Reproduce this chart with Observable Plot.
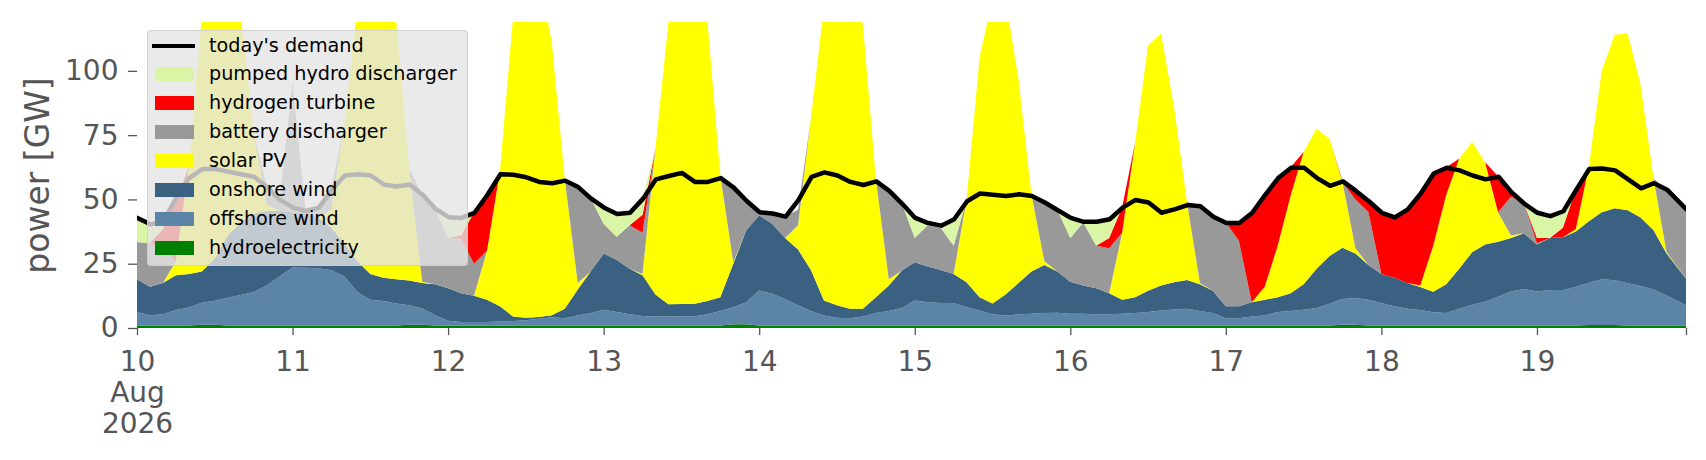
<!DOCTYPE html>
<html>
<head>
<meta charset="utf-8">
<script src="https://cdn.jsdelivr.net/npm/d3@7"></script>
<script src="https://cdn.jsdelivr.net/npm/@observablehq/plot@0.6"></script>
<style>
  html, body { margin: 0; padding: 0; background: #ffffff; }
  #wrap { position: relative; width: 1706px; height: 460px; font-family: "DejaVu Sans", sans-serif; }
  #legend { position: absolute; left: 147px; top: 30px; width: 321px; height: 236px;
    background: rgba(229,229,229,0.8); border: 1px solid rgba(204,204,204,0.8); border-radius: 4px; box-sizing: border-box; }
  .lg-row { position: absolute; left: 0; height: 0; }
  .lg-patch { position: absolute; left: 7px; width: 38.5px; height: 14px; top: -7px; }
  .lg-line { position: absolute; left: 4px; width: 43px; height: 4px; top: -2px; background: #000; }
  .lg-text { position: absolute; left: 61px; top: 0; transform: translateY(-52%); font-size: 19.2px; line-height: 1; color: #000; white-space: nowrap; }
</style>
</head>
<body>
<div id="wrap"></div>
<script>
// time axis: hours after 10 Aug 2026 00:00
const hours = [
  0,2,4,6,8,10,12,14,16,18,20,22,
  24,26,28,30,32,34,36,38,40,42,44,46,
  48,50,52,54,56,58,60,62,64,66,68,70,
  72,74,76,78,80,82,84,86,88,90,92,94,
  96,98,100,102,104,106,108,110,112,114,116,118,
  120,122,124,126,128,130,132,134,136,138,140,142,
  144,146,148,150,152,154,156,158,160,162,164,166,
  168,170,172,174,176,178,180,182,184,186,188,190,
  192,194,196,198,200,202,204,206,208,210,212,214,
  216,218,220,222,224,226,228,230,232,234,236,239
];

// series values in GW (bottom of stack first)
const hydro = [
  1,1,1,1,1,1.3,1.3,1,1,1,1,1,
  1,1,1,1,1,1,1,1,1,1.3,1.3,1,
  1,1,1,1,1,1,1,1,1,1,1,1,
  1,1,1,1,1,1,1,1,1,1,1.5,1.5,
  1,1,1,1,1,1,1,1,1,1,1,1,
  1,1,1,1,1,1,1,1,1,1,1,1,
  1,1,1,1,1,1,1,1,1,1,1,1,
  1,1,1,1,1,1,1,1,1,1.3,1.3,1,
  1,1,1,1,1,1,1,1,1,1,1,1,
  1,1,1,1,1.2,1.2,1.2,1,1,1,1,1
];
const offshore = [
  5.2,4.0,4.3,6.0,7.0,8.5,9.3,10.8,11.8,13.0,15.5,19.0,
  22.5,22.4,22.2,21.5,19.0,13.0,10.0,9.5,8.5,7.5,6.3,4.0,
  1.8,1.3,1.3,1.3,1.5,1.7,2.0,2.6,3.2,2.8,3.9,4.8,
  6.1,5.2,4.3,3.7,3.5,3.5,3.6,3.6,4.3,5.6,6.6,8.5,
  13.6,12.3,10.3,7.8,5.6,3.9,3.0,2.8,3.5,4.8,5.6,6.8,
  9.7,9.0,8.7,8.7,7.1,5.8,4.3,3.9,4.3,4.5,4.8,4.9,
  4.5,4.5,4.3,4.3,4.5,4.8,5.2,5.8,6.2,6.5,5.6,4.8,
  2.8,2.8,3.5,3.9,5.2,5.6,6.1,6.8,8.4,10.0,10.4,10.0,
  8.7,7.5,6.5,6.0,5.1,4.8,6.5,8.0,9.2,11.2,13.2,14.2,
  13.2,13.8,13.8,14.9,16.4,17.8,17.4,16.4,15.3,14.0,11.6,7.8
];
const onshore = [
  12.8,11,12.2,13.5,13,12.2,16.4,24.2,28.2,30.5,29,25.5,
  21.5,21.1,19.8,16.5,13,12,10,9,9.5,9.7,9.9,12,
  12.7,11.2,10.2,8.7,6,1.8,1,0.7,0.8,3.7,10.1,16.2,
  21.9,20.3,17.7,15.8,8.5,4.7,4.7,4.8,5.2,5.4,16.9,28,
  29.2,27.2,23.7,21.7,15.9,5.8,4.8,3.7,3,6.2,9.9,14.6,
  14.9,13.9,12.9,11.3,9.7,5.2,4.2,8.1,12.2,16.5,18.7,16.1,
  12.5,11,10.2,8.2,5.5,6.2,8.3,9.7,10.6,11.2,10.4,8.7,
  4.7,4.7,5.5,6.1,5.8,6.9,9.9,15.2,18.6,19.9,17.3,13.5,
  11.3,11,10,8.9,8,11.2,15.5,20.5,22.3,21.3,20.8,21.6,
  18.3,20.2,20.5,21.6,23.9,26,28,28.4,26.7,23,16.4,10.4
];
const solar = [
  0,0,0,5.5,42,99,113,109,81,31.5,2.5,0,
  0,0,0,7,47,99,119,118.5,100,43.5,0.5,0,
  0,0,0,19,52.5,115.5,136,133.7,106,50.5,2.5,0,
  0,0,0,0.5,57,109.8,130.7,128.6,109.5,47.3,0.6,0,
  0,0,0,9.5,59.5,114.3,131.2,127.5,110.5,46,2.5,0,
  0,0,0,0,32.2,93,118.5,115,79.5,30,1.5,0,
  0,0,0,0,26,60,95.5,98,68.2,30.3,0.5,0,
  0,0,0,5,20,38,51.4,54.5,45.6,25.5,2,0,
  0,0,0,0.6,17.9,34.7,42.8,42.8,32,11.5,1,0,
  0,0,0,1,21,55,67.4,68.7,51.5,20,0.5,0
];
const battery = [
  14.4,17,13.5,0,0,0,0,0,0,0,7,4.5,
  51,1.2,4,8,0,0,0,0,0,0,34,29.5,
  19.5,21.2,12.5,0,0,0,0,0,0,0,37.5,28.5,
  11.5,9,17,16,0,0,0,0,0,0,29.2,11.6,
  1.4,4.2,8.5,6,0,0,0,0,0,0,34.5,26.1,
  9.4,16.1,16.4,11,0,0,0,0,0,0,23,24,
  17,24.5,16.5,17.5,0,0,0,0,0,0,30,29,
  32.5,25.5,0,0,0,0,0,0,0,0,19,20.5,
  0,0,0,0,0,0,0,0,0,0,15,11.7,
  0.5,0,0,0,0,0,0,0,0,0,24.5,27.1
];
const hydrogen = [
  0,0,7.5,23,0,0,0,0,0,0,0,0,
  0,0,0,0,0,0,0,0,0,0,0,0,
  0,1.3,20,22,0,0,0,0,0,0,0,0,
  0,0,0,7,0,0,0,0,0,0,0,0,
  0,0,0,0,0,0,0,0,0,0,0,0,
  0,0,0,0,0,0,0,0,0,0,0,0,
  0,0,0,4,10,0,0,0,0,0,0,0,
  0,7,35,36,26.5,11,0,0,0,0.5,3.5,4.5,
  24,23.7,28.8,36,28.3,10.8,0,0,0,14,2,0,
  2,0,3.7,15.5,0,0,0,0,0,0,0,0
];
const pumped = [
  9.1,7.5,3,2,0,0,0,0,0,0,0,0,
  0,0,0,0,0,0,0,0,0,0,0,0,
  8.3,7,0,0,0,0,0,0,0,0,0,0,
  6.5,9,5,6.5,0,0,0,0,0,0,0,0,
  0,0,0,0,0,0,0,0,0,0,0,0,
  8,1,1,10.5,0,0,0,0,0,0,0,0,
  8,0.5,9.5,7.5,0,0,0,0,0,0,0,0,
  0,0,0,0,0,0,0,0,0,0,0,0,
  0,0,0,0,0,0,0,0,0,0,0,0,
  10,8.7,6.6,0,0,0,0,0,0,0,0,0
];
const demand = [
  43,40.5,41.5,51,58.5,62,62,61,60,59,55,50,
  47,45.7,47,54,59.5,60,59.5,56,55.2,56,52,46.5,
  43.3,43,45,52,60,59.8,58.8,57,56.5,57.5,55,50.5,
  47,44.5,45,50.5,58,59.3,60.5,57,57,58.5,54.8,49.6,
  45.2,44.7,43.5,50,59,60.7,59.5,57,55.8,57.2,53.5,48.5,
  43,41,40,42.5,49.5,52.5,52,51.5,52.2,51.5,49,46,
  43,41.5,41.5,42.5,47,50,49,45,46.3,48,47.5,43.5,
  41,41,45,52,58.5,62.5,62.5,58.5,55.5,57.2,53.5,49.5,
  45,43.2,46.3,52.5,60.3,62.5,61.5,59.5,58,59,53,48.5,
  45,43.7,45.6,54,62,62.2,61.5,58,54.5,56.5,54,46.3
];

const seriesNames = ["hydroelectricity","offshore wind","onshore wind","solar PV","battery discharger","hydrogen turbine","pumped hydro discharger"];
const seriesColors = ["#008000","#5b84a7","#3b6182","#ffff00","#999999","#ff0000","#daf5a5"];
const seriesValues = [hydro, offshore, onshore, solar, battery, hydrogen, pumped];
const demandName = "today's demand";

const dayTicks = [0,24,48,72,96,120,144,168,192,216];
const dayLabels = ["10\nAug\n2026","11","12","13","14","15","16","17","18","19"];
const endTick = 239;
const yTicks = [0,25,50,75,100];
const yLabel = "power [GW]";

const rows = seriesNames.flatMap((name, k) =>
  hours.map((h, i) => ({hour: h, series: name, value: seriesValues[k][i]})));
const demandRows = hours.map((h, i) => ({hour: h, demand: demand[i]}));
const labelMap = new Map(dayTicks.map((t, i) => [t, dayLabels[i]]));

const chart = Plot.plot({
  width: 1706,
  height: 460,
  marginLeft: 137,
  marginRight: 20,
  marginTop: 22,
  marginBottom: 132,
  style: {fontFamily: "DejaVu Sans", background: "#ffffff", color: "#555555"},
  x: {type: "linear", domain: [0, endTick]},
  y: {domain: [0, 119]},
  color: {domain: seriesNames, range: seriesColors},
  marks: [
    Plot.areaY(rows, {x: "hour", y: "value", fill: "series", order: seriesNames, curve: "linear", clip: true}),
    Plot.line(demandRows, {x: "hour", y: "demand", stroke: "#000000", strokeWidth: 4.5, curve: "linear", clip: true}),
    Plot.axisY({ticks: yTicks, tickSize: 9, tickPadding: 10, fontSize: 28, strokeWidth: 1.3, label: null}),
    Plot.axisX({ticks: [...dayTicks, endTick], tickFormat: d => labelMap.get(d) ?? "", tickSize: 7, tickPadding: 13,
      fontSize: 28, lineHeight: 1.12, strokeWidth: 1.3, label: null}),
    Plot.text([yLabel], {text: d => d, frameAnchor: "left", dx: -99, rotate: -90, textAnchor: "middle", lineAnchor: "middle", fontSize: 33, fill: "#555555"})
  ]
});

const wrap = document.getElementById("wrap");
wrap.appendChild(chart);

// legend (overlay, semi-transparent like the original)
const legend = document.createElement("div");
legend.id = "legend";
const legendItems = [{name: demandName, color: "#000000", line: true}]
  .concat(seriesNames.map((n, k) => ({name: n, color: seriesColors[k], line: false})).reverse());
legendItems.forEach((it, i) => {
  const row = document.createElement("div");
  row.className = "lg-row";
  row.style.top = (14.5 + i * 28.9) + "px";
  const sw = document.createElement("div");
  sw.className = it.line ? "lg-line" : "lg-patch";
  sw.style.background = it.color;
  const tx = document.createElement("div");
  tx.className = "lg-text";
  tx.textContent = it.name;
  row.appendChild(sw);
  row.appendChild(tx);
  legend.appendChild(row);
});
wrap.appendChild(legend);
</script>
</body>
</html>
